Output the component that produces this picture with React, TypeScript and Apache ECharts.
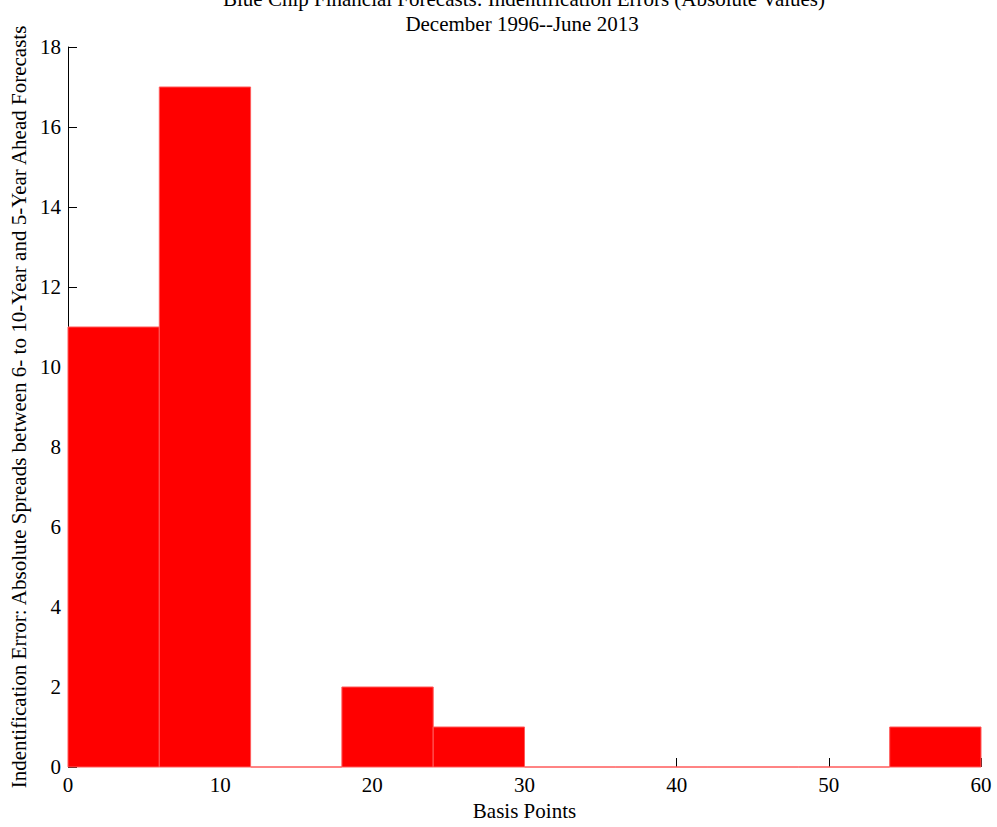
import React, { useEffect, useRef } from "react";
import * as echarts from "echarts";

const titleLine1 = "Blue Chip Financial Forecasts: Indentification Errors (Absolute Values)";
const titleLine2 = "December 1996--June 2013";
const xAxisName = "Basis Points";
const yAxisName = "Indentification Error: Absolute Spreads between 6- to 10-Year and 5-Year Ahead Forecasts";

const binEdges = [0, 6, 12, 18, 24, 30, 36, 42, 48, 54, 60];
const counts = [11, 17, 0, 2, 1, 0, 0, 0, 0, 1];

const FONT = "Liberation Serif";
const FS = 21;

export default function App() {
  const ref = useRef<HTMLDivElement>(null);
  useEffect(() => {
    if (!ref.current) return;
    const chart = echarts.init(ref.current, null, { renderer: "svg" });
    const data = counts.map((c, i) => [binEdges[i], binEdges[i + 1], c]);
    chart.setOption({
      animation: false,
      backgroundColor: "#ffffff",
      textStyle: { fontFamily: FONT },
      grid: { left: 68, right: 16, top: 47, bottom: 60 },
      graphic: [
        {
          type: "text",
          x: 524,
          y: -1,
          style: {
            text: titleLine1,
            fontFamily: FONT,
            fontSize: FS,
            fill: "#000",
            align: "center",
            verticalAlign: "middle",
          },
        },
        {
          type: "text",
          x: 522,
          y: 24,
          style: {
            text: titleLine2,
            fontFamily: FONT,
            fontSize: FS,
            fill: "#000",
            align: "center",
            verticalAlign: "middle",
          },
        },
      ],
      xAxis: {
        type: "value",
        min: 0,
        max: 60,
        interval: 10,
        name: xAxisName,
        nameLocation: "middle",
        nameGap: 33,
        nameTextStyle: { fontFamily: FONT, fontSize: FS, color: "#000" },
        axisLine: { show: false },
        axisTick: { show: true, inside: true, length: 9, lineStyle: { color: "#000" } },
        axisLabel: { fontFamily: FONT, fontSize: FS, color: "#000", margin: 7 },
        splitLine: { show: false },
      },
      yAxis: {
        type: "value",
        min: 0,
        max: 18,
        interval: 2,
        name: yAxisName,
        nameLocation: "middle",
        nameGap: 38,
        nameTextStyle: { fontFamily: FONT, fontSize: FS, color: "#000" },
        axisLine: { show: true, lineStyle: { color: "#000" } },
        axisTick: { show: true, inside: true, length: 9, lineStyle: { color: "#000" } },
        axisLabel: { fontFamily: FONT, fontSize: FS, color: "#000", margin: 7 },
        splitLine: { show: false },
      },
      series: [
        {
          type: "custom",
          data,
          encode: { x: [0, 1], y: 2 },
          renderItem: (params: any, api: any) => {
            const x0 = api.value(0);
            const x1 = api.value(1);
            const v = api.value(2);
            const p0 = api.coord([x0, v]);
            const p1 = api.coord([x1, 0]);
            return {
              type: "rect",
              shape: { x: p0[0], y: p0[1], width: p1[0] - p0[0], height: p1[1] - p0[1] },
              style: { fill: "#ff0000", stroke: "#ff5a5a", lineWidth: 1 },
            };
          },
        },
      ],
    });
    return () => chart.dispose();
  }, []);
  return <div ref={ref} style={{ width: 997, height: 827, position: "absolute", left: 0, top: 0 }} />;
}
